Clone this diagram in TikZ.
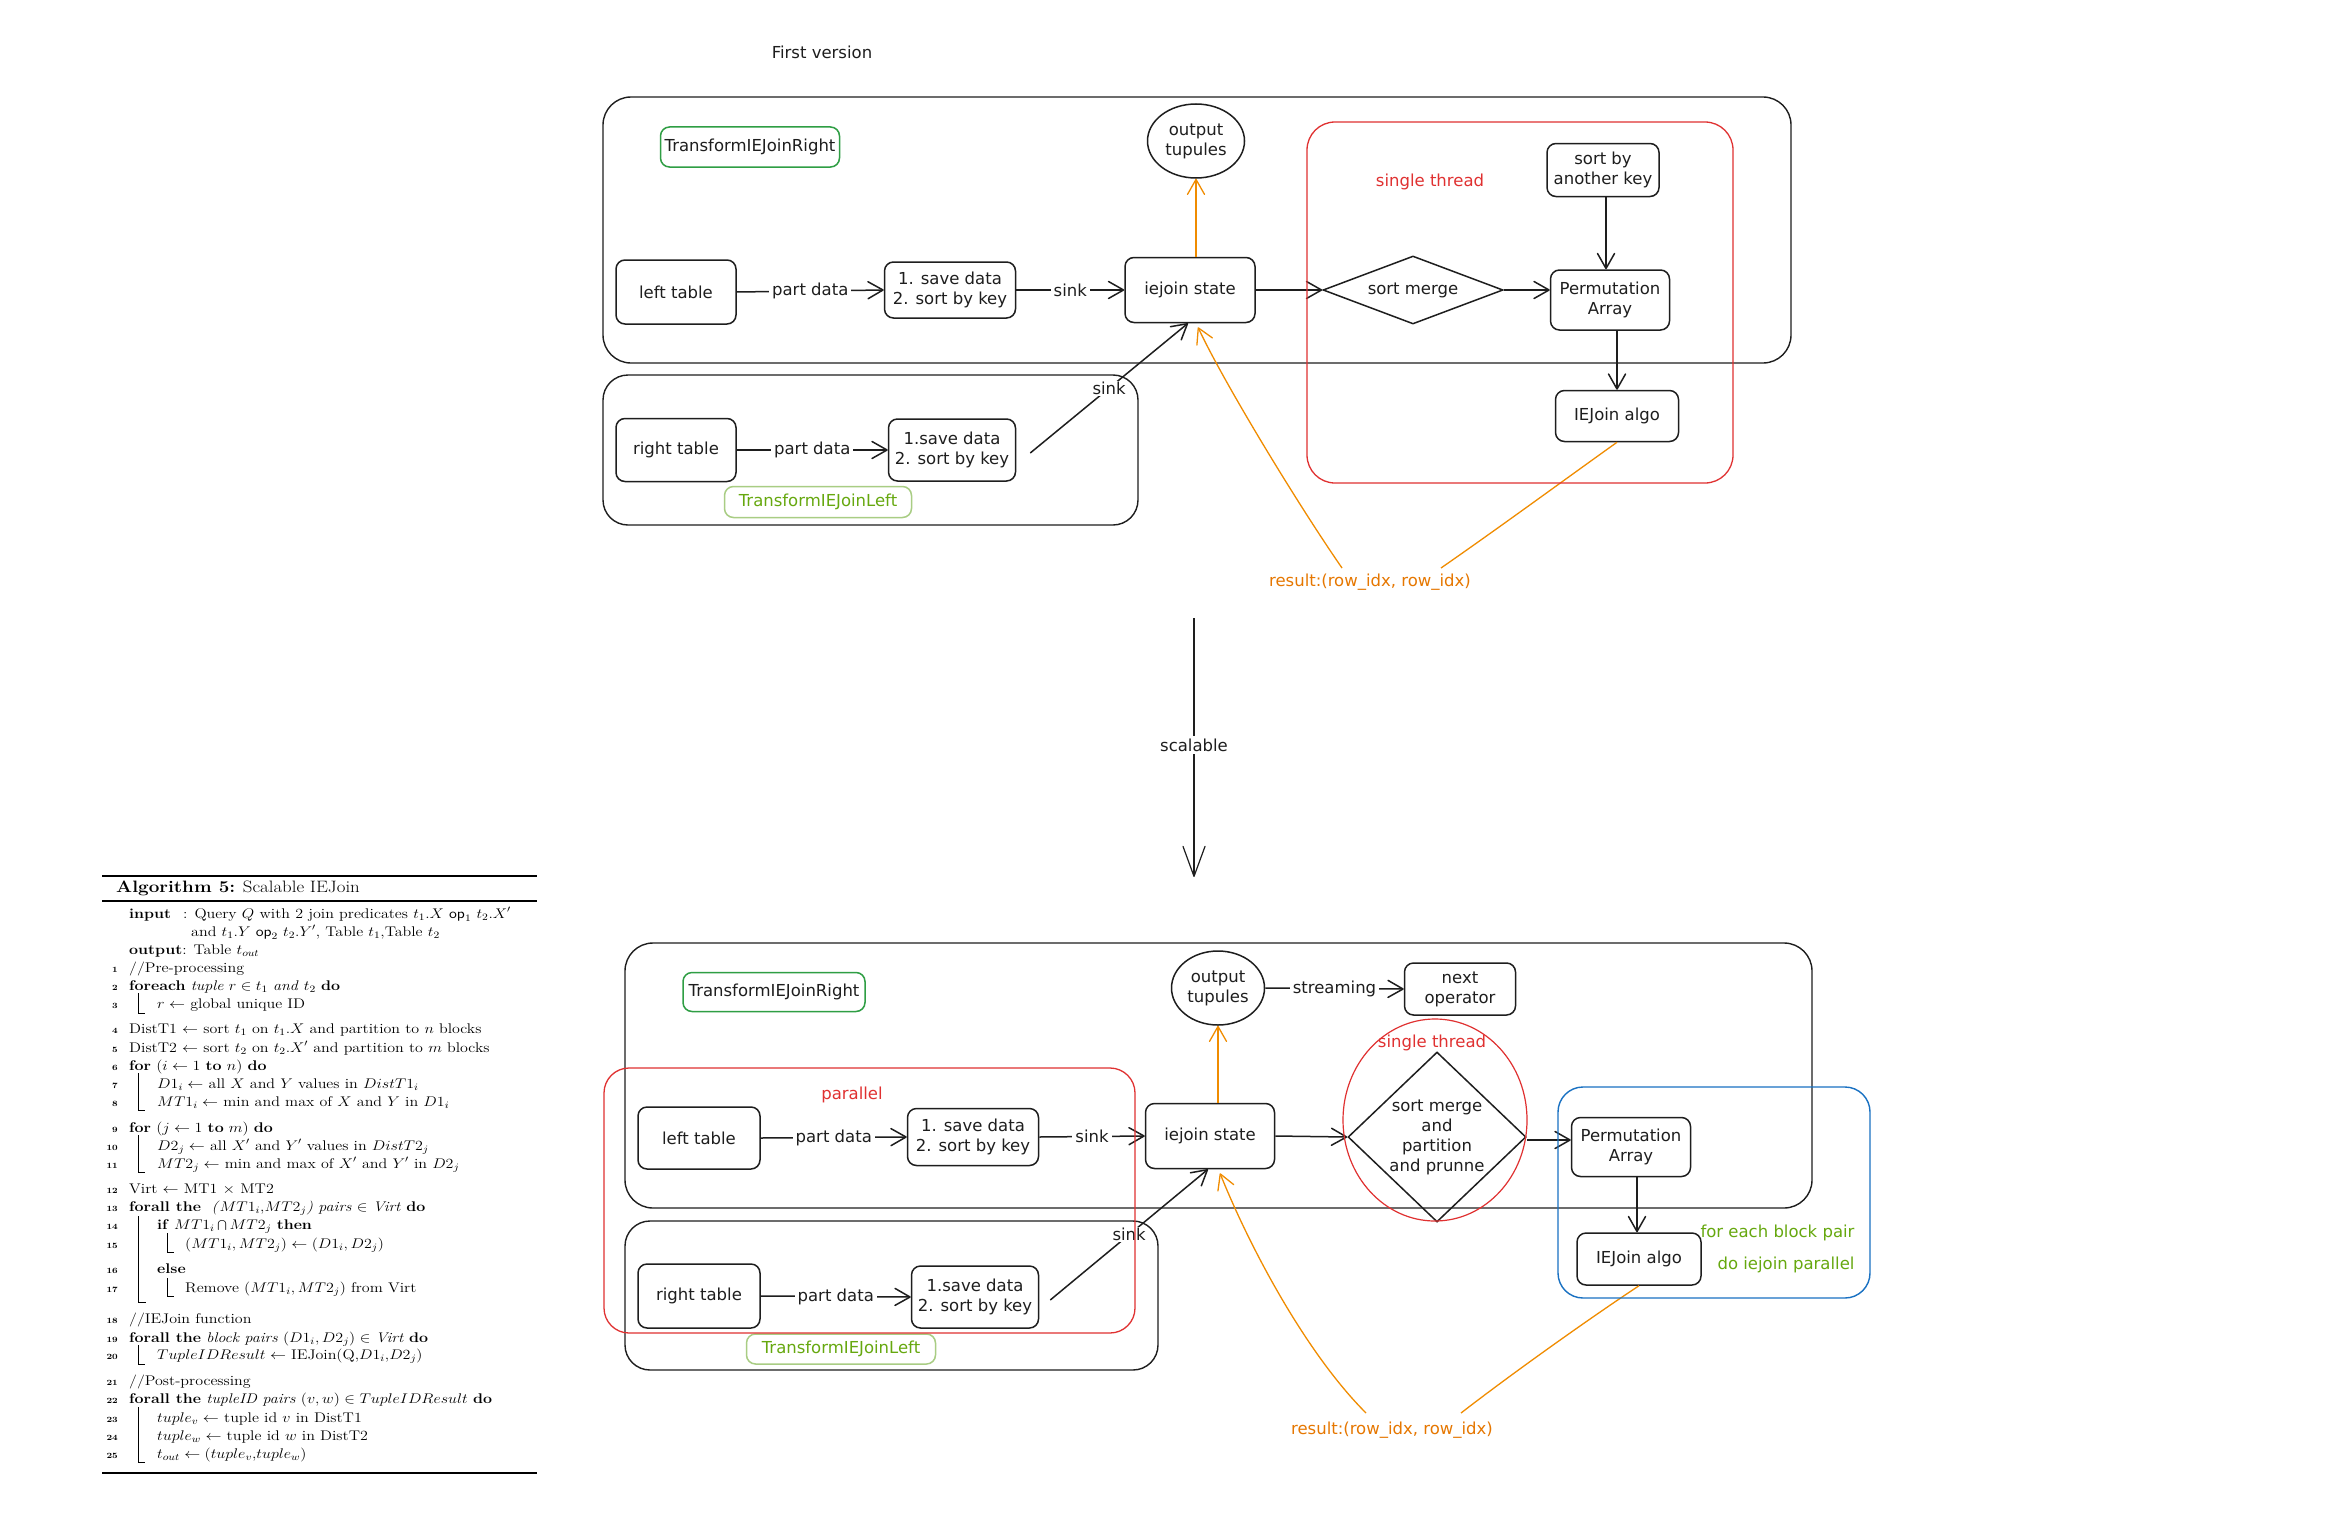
\RequirePackage{fix-cm}
\documentclass[tikz,border=0pt]{standalone}
\usepackage{fontspec}
\newfontfamily\dfont{DejaVu Sans}
\usetikzlibrary{arrows.meta,shapes.geometric,calc}
\definecolor{ink}{HTML}{1E1E1E}
\definecolor{xred}{HTML}{E03131}
\definecolor{xorange}{HTML}{F08C00}
\definecolor{xotext}{HTML}{E67700}
\definecolor{xblue}{HTML}{1971C2}
\definecolor{xgreen}{HTML}{2F9E44}
\definecolor{xlgreen}{HTML}{A9CD84}
\definecolor{xolive}{HTML}{66A80F}
\tikzset{
  dtext/.style={font=\dfont\fontsize{16.5}{20}\selectfont, align=center, text=ink},
  bx/.style={dtext, draw=ink, line width=1.5pt, rounded corners=9pt, inner sep=0pt},
  frame/.style={draw=ink, line width=1.4pt, rounded corners=28pt},
  conn/.style={draw=ink, line width=1.5pt, -{Straight Barb[length=15pt,width=17pt,round]}},
  lbl/.style={dtext, fill=white, inner sep=3pt},
  oconn/.style={draw=xorange, line width=1.3pt},
  oarr/.style={oconn, -{Straight Barb[length=15pt,width=17pt,round]}},
  algo/.style={font=\fontsize{14}{18}\selectfont, anchor=base west, inner sep=0pt},
  lno/.style={font=\fontsize{8}{10}\selectfont\bfseries, anchor=base east, inner sep=0pt},
  bar/.style={line width=0.6pt},
}
\begin{document}
\begin{tikzpicture}[x=1pt,y=-1pt]
\useasboundingbox (0,0) rectangle (2344,1536);
\fill[white] (0,0) rectangle (2344,1536);

% ================= TOP DIAGRAM =================
\node[dtext] (title1) at (822,52) {First version};
\draw[frame] (603,97) rectangle (1791,363);
\draw[frame, rounded corners=25pt] (603,375) rectangle (1138,525);

\node[bx, draw=xgreen, minimum width=179pt, minimum height=40pt] (tir1) at (750,147) {TransformIEJoinRight};
\node[bx, ellipse, rounded corners=0pt, minimum width=97pt, minimum height=74pt] (out1) at (1196,141) {output\\tupules};
\node[bx, minimum width=112pt, minimum height=53pt] (sk1) at (1603,170) {sort by\\another key};
\node[bx, minimum width=120pt, minimum height=64pt] (lt1) at (676,292) {left table};
\node[bx, minimum width=131pt, minimum height=56pt] (sd1) at (950,290) {1. save data\\2. sort by key};
\node[bx, minimum width=130pt, minimum height=65pt] (ij1) at (1190,290) {iejoin state};
\node[bx, diamond, rounded corners=0pt, aspect=2.65, minimum width=180pt, minimum height=68pt] (sm1) at (1413,290) {sort merge};
\node[bx, minimum width=119pt, minimum height=60pt] (pa1) at (1610,300) {Permutation\\Array};
\node[bx, minimum width=123pt, minimum height=51pt] (ie1) at (1617,416) {IEJoin algo};
\node[bx, minimum width=120pt, minimum height=63pt] (rt1) at (676,450) {right table};
\node[bx, minimum width=127pt, minimum height=62pt] (sd2) at (952,450) {1.save data\\2. sort by key};
\node[bx, draw=xlgreen, text=xolive, minimum width=187pt, minimum height=31pt] (til1) at (818,502) {TransformIEJoinLeft};
\node[dtext, text=xred] (st1) at (1430,182) {single thread};

\coordinate (v1) at (1606,0);
\coordinate (v2) at (1637,0);
\coordinate (h2) at (0,1140);

\draw[conn] (lt1.east) -- node[lbl] (pd1) {part data} (sd1.west);
\draw[conn] (sd1.east) -- node[lbl] (sk1l) {sink} (ij1.west);
\draw[conn] (ij1.east) -- (sm1.west);
\draw[conn] (sm1.east) -- (sm1.east -| pa1.west);
\draw[conn] (sk1.south -| v1) -- (pa1.north -| v1);
\draw[conn] (ie1.north |- pa1.south) -- (ie1.north);
\draw[conn] (rt1.east) -- node[lbl] (pd2) {part data} (sd2.west);
\coordinate (sd2s) at ($(sd2.east)+(14,3)$);
\coordinate (ij1b) at ($(ij1.south)+(-2,0)$);
\draw[conn] (sd2s) -- node[lbl, inner sep=1pt] (sk2l) {sink} (ij1b);
\draw[oarr] (out1.south |- ij1.north) -- (out1.south);

\coordinate (r1a) at (1342,568);
\coordinate (r1b) at (1441,568);
\coordinate (ij1t) at ($(ij1.south)+(8,4)$);
\node[dtext, text=xotext] (res1) at (1370,582) {result:(row\_idx, row\_idx)};
\draw[oarr] (r1a) .. controls (1297,503) and (1223,381) .. (ij1t);
\draw[oconn] (ie1.south) .. controls (1560,483) and (1500,527) .. (r1b);

\draw[draw=xred, line width=1.3pt, rounded corners=28pt] (1307,122) rectangle (1733,483);

% ================= SCALABLE ARROW =================
\coordinate (sc1) at (1194,618);
\coordinate (sc2) at (1194,877);
\draw[draw=ink, line width=1.2pt, -{Straight Barb[length=30pt,width=22pt,round]}] (sc1) -- node[lbl, pos=0.49] (scl) {scalable} (sc2);

% ================= BOTTOM DIAGRAM =================
\draw[frame] (625,943) rectangle (1812,1208);
\draw[frame, rounded corners=25pt] (625,1221) rectangle (1158,1370);

\node[bx, draw=xgreen, minimum width=182pt, minimum height=39pt] (tir2) at (774,992) {TransformIEJoinRight};
\node[bx, ellipse, rounded corners=0pt, minimum width=93pt, minimum height=74pt] (out2) at (1218,988) {output\\tupules};
\node[bx, minimum width=111pt, minimum height=52pt] (nx) at (1460,989) {next\\operator};
\node[bx, minimum width=122pt, minimum height=62pt] (lt2) at (699,1138) {left table};
\node[bx, minimum width=131pt, minimum height=57pt] (sd3) at (973,1137) {1. save data\\2. sort by key};
\node[bx, minimum width=129pt, minimum height=65pt] (ij2) at (1210,1136) {iejoin state};
\node[bx, diamond, rounded corners=0pt, aspect=1.05, minimum width=178pt, minimum height=170pt] (dm2) at (1437,1137) {sort merge\\and\\partition\\and prunne};
\node[bx, minimum width=119pt, minimum height=59pt] (pa2) at (1631,1147) {Permutation\\Array};
\node[bx, minimum width=124pt, minimum height=52pt] (ie2) at (1639,1259) {IEJoin algo};
\node[bx, minimum width=122pt, minimum height=64pt] (rt2) at (699,1296) {right table};
\node[bx, minimum width=127pt, minimum height=62pt] (sd4) at (975,1297) {1.save data\\2. sort by key};
\node[bx, draw=xlgreen, text=xolive, minimum width=189pt, minimum height=30pt] (til2) at (841,1349) {TransformIEJoinLeft};
\node[dtext, text=xred] (st2) at (1432,1043) {single thread};
\node[dtext, text=xred] (par) at (852,1095) {parallel};
\node[dtext, text=xolive, anchor=east] (fe1) at (1858,1233) {for each block pair};
\node[dtext, text=xolive, anchor=east] (fe2) at (1858,1265) {do iejoin parallel};

\draw[conn] (out2.east) -- node[lbl] (strm) {streaming} (nx.west);
\draw[conn] (lt2.east) -- node[lbl] (pd3) {part data} (sd3.west);
\draw[conn] (sd3.east) -- node[lbl] (sk3l) {sink} (ij2.west);
\draw[conn] (ij2.east) -- (dm2.west);
\draw[conn] (dm2.east |- h2) -- (pa2.west |- h2);
\draw[conn] (v2 |- pa2.south) -- (v2 |- ie2.north);
\draw[conn] (rt2.east) -- node[lbl] (pd4) {part data} (sd4.west);
\coordinate (sd4s) at ($(sd4.east)+(11,3)$);
\coordinate (ij2b) at ($(ij2.south)+(-2,0)$);
\draw[conn] (sd4s) -- node[lbl, inner sep=1pt] (sk4l) {sink} (ij2b);
\draw[oarr] (out2.south |- ij2.north) -- (out2.south);

\coordinate (r2a) at (1366,1413);
\coordinate (r2b) at (1461,1413);
\coordinate (ij2t) at ($(ij2.south)+(10,4)$);
\node[dtext, text=xotext] (res2) at (1392,1430) {result:(row\_idx, row\_idx)};
\draw[oarr] (r2a) .. controls (1306,1353) and (1250,1248) .. (ij2t);
\draw[oconn] (ie2.south) .. controls (1590,1318) and (1510,1375) .. (r2b);

\draw[draw=xred, line width=1.3pt, rounded corners=25pt] (604,1068) rectangle (1135,1333);
\node[ellipse, draw=xred, line width=1.2pt, minimum width=184pt, minimum height=202pt, inner sep=0pt] (rc2) at (1435,1120) {};
\draw[draw=xblue, line width=1.4pt, rounded corners=25pt] (1558,1087) rectangle (1870,1298);

% ================= ALGORITHM (horizontally stretched as in the reference) =================
\begin{scope}[xscale=1.143, transform shape]
\draw[line width=1.8pt] (89.24,876) -- (469.82,876);
\node[algo, font=\fontsize{16.5}{18}\selectfont] (atitle) at (101.49,892) {\textbf{Algorithm 5:} Scalable IEJoin};
\draw[line width=1.1pt] (89.24,901) -- (469.82,901);
\node[algo] (ain) at (112.86,918) {\textbf{input}};
\node[algo] (ain2) at (160.1,918) {: Query $Q$ with 2 join predicates $t_1.X$ $\mathsf{op}_1$ $t_2.X'$};
\node[algo] (ain3) at (167.1,936) {and $t_1.Y$ $\mathsf{op}_2$ $t_2.Y'$, Table $t_1$,Table $t_2$};
\node[algo] (aout) at (112.86,954) {\textbf{output}: Table $t_{out}$};

\node[lno] (n1) at (103.24,972) {1};
\node[algo] (a1) at (112.86,972) {//Pre-processing};
\node[lno] (n2) at (103.24,990) {2};
\node[algo] (a2) at (112.86,990) {\textbf{foreach} \textit{tuple} $r \in t_1$ \textit{and} $t_2$ \textbf{do}};
\node[lno] (n3) at (103.24,1008) {3};
\node[algo] (a3) at (137.36,1008) {$r \leftarrow$ global unique ID};
\node[lno] (n4) at (103.24,1033) {4};
\node[algo] (a4) at (112.86,1033) {DistT1 $\leftarrow$ sort $t_1$ on $t_1.X$ and partition to $n$ blocks};
\node[lno] (n5) at (103.24,1052) {5};
\node[algo] (a5) at (112.86,1052) {DistT2 $\leftarrow$ sort $t_2$ on $t_2.X'$ and partition to $m$ blocks};
\node[lno] (n6) at (103.24,1070) {6};
\node[algo] (a6) at (112.86,1070) {\textbf{for} ($i \leftarrow 1$ \textbf{to} $n$) \textbf{do}};
\node[lno] (n7) at (103.24,1088) {7};
\node[algo] (a7) at (137.36,1088) {$D1_i \leftarrow$ all $X$ and $Y$ values in $DistT1_i$};
\node[lno] (n8) at (103.24,1106) {8};
\node[algo] (a8) at (137.36,1106) {$MT1_i \leftarrow$ min and max of $X$ and $Y$ in $D1_i$};
\node[lno] (n9) at (103.24,1132) {9};
\node[algo] (a9) at (112.86,1132) {\textbf{for} ($j \leftarrow 1$ \textbf{to} $m$) \textbf{do}};
\node[lno] (n10) at (103.24,1150) {10};
\node[algo] (a10) at (137.36,1150) {$D2_j \leftarrow$ all $X'$ and $Y'$ values in $DistT2_j$};
\node[lno] (n11) at (103.24,1168) {11};
\node[algo] (a11) at (137.36,1168) {$MT2_j \leftarrow$ min and max of $X'$ and $Y'$ in $D2_j$};
\node[lno] (n12) at (103.24,1193) {12};
\node[algo] (a12) at (112.86,1193) {Virt $\leftarrow$ MT1 $\times$ MT2};
\node[lno] (n13) at (103.24,1211) {13};
\node[algo] (a13) at (112.86,1211) {\textbf{forall the} \ \textit{(}$MT1_i$,$MT2_j$\textit{) pairs} $\in$ \textit{Virt} \textbf{do}};
\node[lno] (n14) at (103.24,1229) {14};
\node[algo] (a14) at (137.36,1229) {\textbf{if} $MT1_i \bigcap MT2_j$ \textbf{then}};
\node[lno] (n15) at (103.24,1248) {15};
\node[algo] (a15) at (161.85,1248) {$(MT1_i, MT2_j) \leftarrow (D1_i, D2_j)$};
\node[lno] (n16) at (103.24,1273) {16};
\node[algo] (a16) at (137.36,1273) {\textbf{else}};
\node[lno] (n17) at (103.24,1292) {17};
\node[algo] (a17) at (161.85,1292) {Remove $(MT1_i, MT2_j)$ from Virt};
\node[lno] (n18) at (103.24,1323) {18};
\node[algo] (a18) at (112.86,1323) {//IEJoin function};
\node[lno] (n19) at (103.24,1342) {19};
\node[algo] (a19) at (112.86,1342) {\textbf{forall the} \textit{block pairs} $(D1_i, D2_j) \in$ \textit{Virt} \textbf{do}};
\node[lno] (n20) at (103.24,1359) {20};
\node[algo] (a20) at (137.36,1359) {$TupleIDResult \leftarrow$ IEJoin(Q,$D1_i$,$D2_j$)};
\node[lno] (n21) at (103.24,1385) {21};
\node[algo] (a21) at (112.86,1385) {//Post-processing};
\node[lno] (n22) at (103.24,1403) {22};
\node[algo] (a22) at (112.86,1403) {\textbf{forall the} \textit{tupleID pairs} $(v,w) \in TupleIDResult$ \textbf{do}};
\node[lno] (n23) at (103.24,1422) {23};
\node[algo] (a23) at (137.36,1422) {$tuple_v \leftarrow$ tuple id $v$ in DistT1};
\node[lno] (n24) at (103.24,1440) {24};
\node[algo] (a24) at (137.36,1440) {$tuple_w \leftarrow$ tuple id $w$ in DistT2};
\node[lno] (n25) at (103.24,1458) {25};
\node[algo] (a25) at (137.36,1458) {$t_{out} \leftarrow (tuple_v$,$tuple_w)$};
\draw[line width=1.8pt] (89.24,1473) -- (469.82,1473);

\draw[bar] (120.73,993) -- (120.73,1013) -- (126.86,1013);
\draw[bar] (120.73,1073) -- (120.73,1110) -- (126.86,1110);
\draw[bar] (120.73,1135) -- (120.73,1172) -- (126.86,1172);
\draw[bar] (120.73,1216) -- (120.73,1302) -- (127.73,1302);
\draw[bar] (146.11,1233) -- (146.11,1252) -- (152.23,1252);
\draw[bar] (146.11,1278) -- (146.11,1296) -- (152.23,1296);
\draw[bar] (120.73,1345) -- (120.73,1364) -- (126.86,1364);
\draw[bar] (120.73,1407) -- (120.73,1462) -- (126.86,1462);
\end{scope}
\end{tikzpicture}
\end{document}
